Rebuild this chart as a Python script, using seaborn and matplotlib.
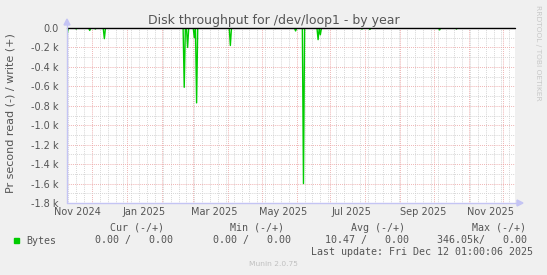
import matplotlib
matplotlib.use("Agg")
import matplotlib.pyplot as plt
import matplotlib.dates as mdates
import matplotlib.transforms as mtransforms
from matplotlib.ticker import FuncFormatter, MultipleLocator, NullFormatter
from matplotlib.lines import Line2D
from matplotlib.patches import Polygon, Rectangle
import seaborn as sns
import pandas as pd

# ---------------- data ----------------
spike_dates = ["2024-11-09", "2024-11-17", "2024-11-29", "2024-12-04", "2024-12-12",
               "2025-02-21", "2025-02-24", "2025-03-02", "2025-03-04", "2025-04-03",
               "2025-05-13", "2025-05-31", "2025-06-07", "2025-06-20", "2025-06-22",
               "2025-07-29", "2025-08-05", "2025-10-06", "2025-10-21"]
read_values = [-60, -10, -25, -10, -110,
               -610, -200, -100, -770, -180,
               -5, -30, -1600, -120, -70,
               -10, -15, -20, -10]
series_start = "2024-11-09"
series_end = "2025-12-12"
view_start = "2024-11-08 19:00"
view_end = "2025-12-12 01:00"
month_labels = ["Nov 2024", "Jan 2025", "Mar 2025", "May 2025", "Jul 2025", "Sep 2025", "Nov 2025"]
month_label_dates = ["2024-11-18", "2025-01-16", "2025-03-20", "2025-05-20",
                     "2025-07-20", "2025-09-21", "2025-11-20"]
legend_headers = ["Cur (-/+)", "Min (-/+)", "Avg (-/+)", "Max (-/+)"]
legend_values = ["0.00 /   0.00", "0.00 /   0.00", "10.47 /   0.00", "346.05k/   0.00"]
series_name = "Bytes"
last_update = "Last update: Fri Dec 12 01:00:06 2025"

# ---------------- style ----------------
sns.set_theme(style="white")
plt.rcParams["font.family"] = ["DejaVu Sans"]

W, H = 547, 275
BG = "#F0F0F0"
TXT = "#555555"
AXC = "#C4C4F4"
GREEN = "#00CC00"
MGRID = "#EBA0A0"
NGRID = "#CDCDCD"

fig = plt.figure(figsize=(W / 100, H / 100), dpi=100, facecolor=BG)


def fx(px):
    return px / W


def fy(py):
    return 1 - py / H


L, R, T, B = 67, 515, 28, 203
ax = fig.add_axes([fx(L), fy(B), fx(R) - fx(L), fy(T) - fy(B)])
ax.set_facecolor("white")

days = pd.date_range(series_start, series_end, freq="D")
s = pd.Series(0.0, index=days)
s[pd.to_datetime(spike_dates)] = read_values
df = pd.DataFrame({"date": days, "value": s.values})

sns.lineplot(data=df, x="date", y="value", color=GREEN, lw=1.0, ax=ax, zorder=3)
ax.axhline(0, color="black", lw=1.0, zorder=4, clip_on=False)

ax.set_xlim(pd.Timestamp(view_start), pd.Timestamp(view_end))
ax.set_ylim(-1800, 0)
ax.set_xlabel("")
ax.set_ylabel("")

# grids
ax.xaxis.set_major_locator(mdates.MonthLocator())
ax.xaxis.set_minor_locator(mdates.WeekdayLocator(byweekday=mdates.SU))
ax.xaxis.set_major_formatter(NullFormatter())
ax.yaxis.set_major_locator(MultipleLocator(200))
ax.yaxis.set_minor_locator(MultipleLocator(100))
ax.yaxis.set_major_formatter(FuncFormatter(lambda v, p: "0.0" if abs(v) < 1e-9 else f"{v/1000:.1f} k"))

dots = (0, (0.72, 1.2))
ax.grid(which="minor", color=NGRID, ls=dots, lw=0.72, zorder=0)
ax.grid(which="major", color=MGRID, ls=dots, lw=0.72, zorder=1)

ax.tick_params(axis="y", which="major", length=2, width=0.7, color=NGRID, pad=4,
               labelsize=7, labelcolor=TXT, direction="out")
ax.tick_params(axis="y", which="minor", length=0)
ax.tick_params(axis="x", which="major", length=3, width=0.7, color="#E07070", direction="inout")
ax.tick_params(axis="x", which="minor", length=2, width=0.6, color="#B8B8B8", direction="inout")

for sp in ax.spines.values():
    sp.set_visible(False)

# month labels
trans = mtransforms.blended_transform_factory(ax.transData, ax.transAxes)
for lab, d in zip(month_labels, month_label_dates):
    ax.text(mdates.date2num(pd.Timestamp(d)), -0.025, lab, transform=trans,
            ha="center", va="top", fontsize=7, color=TXT)

# axis lines with arrows
fig.add_artist(Line2D([fx(L), fx(519)], [fy(B), fy(B)], color=AXC, lw=1.0,
                      transform=fig.transFigure))
fig.add_artist(Line2D([fx(L), fx(L)], [fy(B), fy(22)], color=AXC, lw=1.0,
                      transform=fig.transFigure))
fig.add_artist(Polygon([(fx(517), fy(200)), (fx(517), fy(206)), (fx(523), fy(203))],
                       closed=True, color=AXC, transform=fig.transFigure))
fig.add_artist(Polygon([(fx(64), fy(25)), (fx(70), fy(25)), (fx(67), fy(19))],
                       closed=True, color=AXC, transform=fig.transFigure))

# titles
fig.text(fx(274), fy(24), "Disk throughput for /dev/loop1 - by year", ha="center",
         va="baseline", fontsize=9, color=TXT)
fig.text(fx(11), fy(113.5), "Pr second read (-) / write (+)", rotation=90,
         ha="center", va="center", fontsize=8, color=TXT)
fig.text(fx(538), fy(53), "RRDTOOL / TOBI OETIKER", rotation=270, ha="center",
         va="center", fontsize=5.4, color="#C8C8C8")
fig.text(0.5, fy(264.5), "Munin 2.0.75", ha="center", va="center", fontsize=5.4,
         color="#C0C0C0")

# legend
mono = "DejaVu Sans Mono"
hdr_right = [164, 284, 405, 526]
val_right = [173.4, 291.3, 409, 527]
for t, xr in zip(legend_headers, hdr_right):
    fig.text(fx(xr), fy(228), t, ha="right", va="center", family=mono, fontsize=7.2, color=TXT)
for t, xr in zip(legend_values, val_right):
    fig.text(fx(xr), fy(240.5), t, ha="right", va="center", family=mono, fontsize=7.2, color=TXT)
fig.text(fx(26), fy(240.5), series_name, ha="left", va="center", family=mono,
         fontsize=7.2, color=TXT)
fig.add_artist(Rectangle((fx(14), fy(243)), fx(5), 5 / H, color=GREEN,
                         transform=fig.transFigure))
fig.text(fx(533), fy(252), last_update, ha="right", va="center", family=mono,
         fontsize=7.2, color=TXT)

fig.savefig("out.png", dpi=100, facecolor=BG)
